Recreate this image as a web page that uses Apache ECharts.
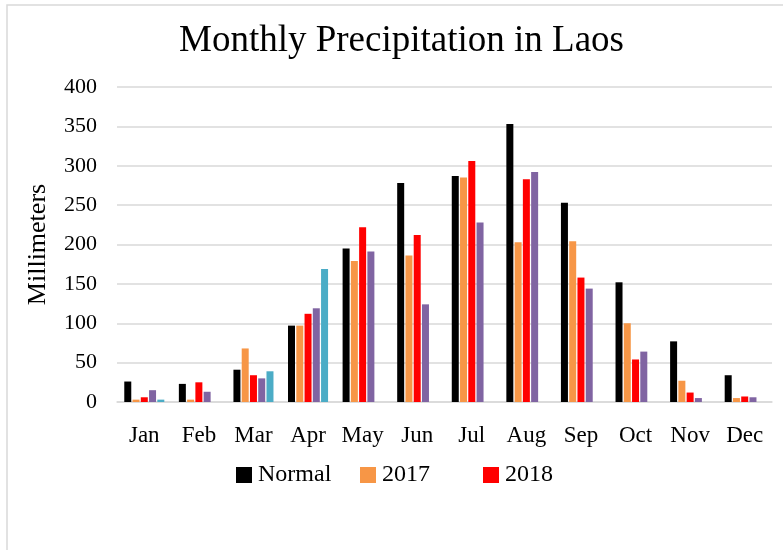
<!DOCTYPE html>
<html>
<head>
<meta charset="utf-8">
<script src="https://cdn.jsdelivr.net/npm/echarts@6/dist/echarts.min.js"></script>
<style>
html,body{margin:0;padding:0;background:#fff;}
#chart{width:783px;height:550px;}
</style>
</head>
<body>
<div id="chart"></div>
<script>
var months = ['Jan','Feb','Mar','Apr','May','Jun','Jul','Aug','Sep','Oct','Nov','Dec'];
var yTicks = [0, 400, 50];
var normal = [26, 23, 41, 97, 195, 278, 287, 353, 253, 152, 77, 34];
var y2017 = [3, 3, 68, 97, 179, 186, 285, 203, 204, 100, 27, 5];
var y2018 = [6, 25, 34, 112, 222, 212, 306, 283, 158, 54, 12, 7];
var y2019 = [15, 13, 30, 119, 191, 124, 228, 292, 144, 64, 5, 6];
var y2020 = [3, null, 39, 169, null, null, null, null, null, null, null, null];

var FONT = "'Liberation Serif','Times New Roman',serif";
var chart = echarts.init(document.getElementById('chart'));

function bar(name, data, color){
  return {name:name, type:'bar', data:data, barWidth:7, barGap:'18%',
    itemStyle:{color:color}};
}
function legend(name, left){
  return {data:[name], left:left, top:463, padding:0, itemWidth:16, itemHeight:16, itemGap:0,
    icon:'rect', textStyle:{fontFamily:FONT, fontSize:24, color:'#000', padding:[0,0,0,1]},
    selectedMode:false};
}

chart.setOption({
  animation:false,
  backgroundColor:'#fff',
  graphic:[{type:'rect', shape:{x:7, y:5, width:800, height:600},
    style:{fill:'none', stroke:'#d9d9d9', lineWidth:1.5}, silent:true}],
  title:{text:'Monthly Precipitation in Laos', left:179, top:23, padding:0,
    textStyle:{fontFamily:FONT, fontSize:37, fontWeight:'normal', color:'#000'}},
  legend:[legend('Normal',236), legend('2017',360), legend('2018',483)],
  grid:{left:117, right:11, top:87, bottom:148, containLabel:false},
  xAxis:{type:'category', data:months,
    axisLine:{lineStyle:{color:'#d9d9d9', width:1.5}},
    axisTick:{show:false},
    axisLabel:{fontFamily:FONT, fontSize:23, color:'#000', margin:22, interval:0}},
  yAxis:{type:'value', min:yTicks[0], max:yTicks[1], interval:yTicks[2],
    name:'Millimeters', nameLocation:'middle', nameGap:66, nameRotate:90,
    nameTextStyle:{fontFamily:FONT, fontSize:26, color:'#000'},
    axisLine:{show:false}, axisTick:{show:false},
    axisLabel:{fontFamily:FONT, fontSize:22, color:'#000', margin:20},
    splitLine:{lineStyle:{color:'#d9d9d9', width:1.5}}},
  series:[
    bar('Normal', normal, '#000000'),
    bar('2017', y2017, '#F79646'),
    bar('2018', y2018, '#FF0000'),
    bar('2019', y2019, '#8064A2'),
    bar('2020', y2020, '#4BACC6')
  ]
});
</script>
</body>
</html>
